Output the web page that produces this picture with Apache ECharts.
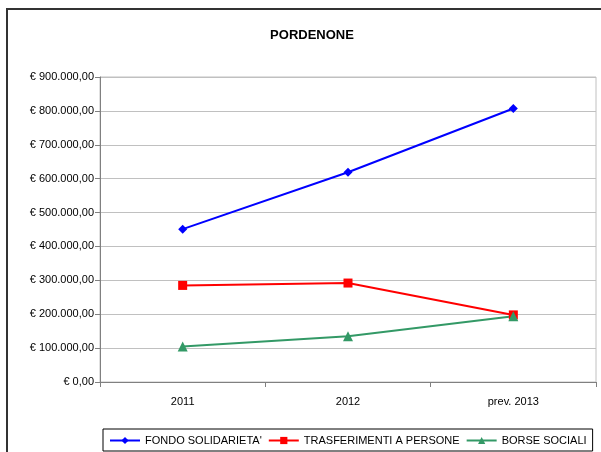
<!DOCTYPE html>
<html>
<head>
<meta charset="utf-8">
<script src="https://cdn.jsdelivr.net/npm/echarts@6/dist/echarts.min.js"></script>
<style>
html,body{margin:0;padding:0;background:#fff;}
#main{width:601px;height:452px;}
</style>
</head>
<body>
<div id="main"></div>
<script>
// ============================= dati =============================
const categories = ['2011', '2012', 'prev. 2013'];
const fondoSolidarieta = [451000, 619000, 807000];
const trasferimentiPersone = [285000, 292000, 198000];
const borseSociali = [105000, 135000, 194000];
const yTicks = [0, 100000, 200000, 300000, 400000, 500000, 600000, 700000, 800000, 900000];

const font = 'Liberation Sans, Arial, sans-serif';

// formato euro italiano: € 900.000,00
function euro(v) {
    let s = Math.round(v).toString().replace(/\B(?=(\d{3})+(?!\d))/g, '.');
    return '€ ' + s + ',00';
}

function serie(name, data, color, symbol) {
    return {
        name: name,
        type: 'line',
        data: data,
        symbol: symbol,
        symbolSize: symbol === 'triangle' ? 10 : 9,
        lineStyle: { color: color, width: 2 },
        itemStyle: { color: color },
        animation: false
    };
}

let option = {
    backgroundColor: '#fff',
    textStyle: { fontFamily: font },
    title: {
        text: 'PORDENONE',
        left: 307,
        top: 24,
        textAlign: 'center',
        textStyle: { fontSize: 13, fontWeight: 'bold', color: '#000', fontFamily: font }
    },
    legend: {
        bottom: 1,
        left: 103,
        borderColor: '#000',
        borderWidth: 1,
        padding: [6, 6, 5, 6],
        itemGap: 6,
        itemWidth: 30,
        itemHeight: 9,
        textStyle: { fontSize: 11, color: '#000', fontFamily: font },
        data: ["FONDO SOLIDARIETA'", 'TRASFERIMENTI A PERSONE', 'BORSE SOCIALI']
    },
    grid: {
        left: 100,
        right: 5,
        top: 77,
        bottom: 70,
        show: true,
        borderColor: '#c0c0c0',
        borderWidth: 1
    },
    xAxis: {
        type: 'category',
        data: categories,
        boundaryGap: true,
        axisLine: { lineStyle: { color: '#808080', width: 1 } },
        axisTick: { show: true, length: 5, lineStyle: { color: '#808080' } },
        axisLabel: { color: '#000', fontSize: 11, margin: 14, fontFamily: font }
    },
    yAxis: {
        type: 'value',
        min: yTicks[0],
        max: yTicks[yTicks.length - 1],
        interval: 100000,
        axisLine: { show: true, lineStyle: { color: '#808080', width: 1 } },
        axisTick: { show: true, length: 5, lineStyle: { color: '#808080' } },
        splitLine: { lineStyle: { color: '#c0c0c0', width: 1 } },
        axisLabel: { color: '#000', fontSize: 11, margin: 6, formatter: euro, fontFamily: font }
    },
    graphic: [
        {
            type: 'rect',
            shape: { x: 7, y: 9, width: 620, height: 460 },
            style: { fill: null, stroke: '#333', lineWidth: 2 },
            silent: true
        }
    ],
    series: [
        serie("FONDO SOLIDARIETA'", fondoSolidarieta, '#0000ff', 'diamond'),
        serie('TRASFERIMENTI A PERSONE', trasferimentiPersone, '#ff0000', 'rect'),
        serie('BORSE SOCIALI', borseSociali, '#339966', 'triangle')
    ]
};

echarts.init(document.getElementById('main'), null, { renderer: 'canvas' }).setOption(option);
</script>
</body>
</html>
